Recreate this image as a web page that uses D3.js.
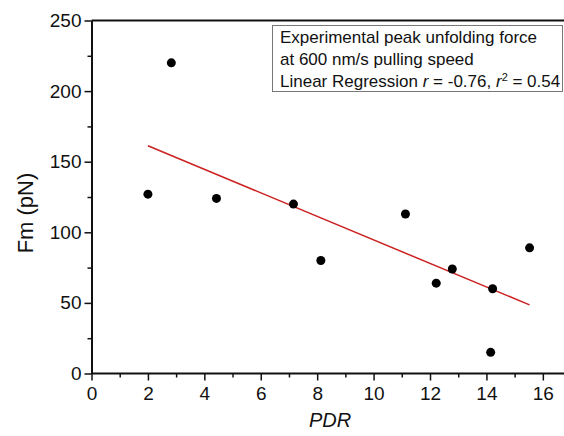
<html><head>
<style>
  body { margin: 0; background: #ffffff; }
  svg text { font-family: "Liberation Sans", Arial, sans-serif; fill: #111; }
</style>
</head><body>
<div id="chart"></div>
<script src="https://cdnjs.cloudflare.com/ajax/libs/d3/7.8.5/d3.min.js"></script>
<script>
const width = 564;
const height = 436;

// data
const pdr = [2.0, 2.83, 4.43, 7.16, 8.13, 11.13, 12.22, 12.79, 14.22, 14.15, 15.53];
const fm  = [127, 220, 124, 120, 80, 113, 64, 74, 60, 15, 89];
const xTicks = [0, 2, 4, 6, 8, 10, 12, 14, 16];
const yTicks = [0, 50, 100, 150, 200, 250];
const legendLines = ["Experimental peak unfolding force", "at 600 nm/s pulling speed"];

const svg = d3.select("#chart").append("svg")
  .attr("width", width)
  .attr("height", height);

const x = d3.scaleLinear().domain([0, 16.75]).range([91.5, 564]);
const y = d3.scaleLinear().domain([0, 250]).range([373.5, 20.5]);

// top spine
svg.append("line")
  .attr("x1", x(0)).attr("x2", width)
  .attr("y1", y(250)).attr("y2", y(250))
  .attr("stroke", "#111").attr("stroke-width", 2);

// minor ticks
const xAxisMinor = d3.axisBottom(x).tickValues(d3.range(1, 17, 2)).tickSize(4).tickFormat("");
const yAxisMinor = d3.axisLeft(y).tickValues(d3.range(25, 250, 50)).tickSize(4).tickFormat("");

svg.append("g").attr("transform", `translate(0,${y(0)})`).call(xAxisMinor)
  .call(g => g.select(".domain").remove())
  .selectAll("line").attr("stroke", "#111").attr("stroke-width", 1.5);
svg.append("g").attr("transform", `translate(${x(0)},0)`).call(yAxisMinor)
  .call(g => g.select(".domain").remove())
  .selectAll("line").attr("stroke", "#111").attr("stroke-width", 1.5);

// major axes
const xAxis = d3.axisBottom(x).tickValues(xTicks).tickSize(7).tickPadding(6).tickSizeOuter(0);
const yAxis = d3.axisLeft(y).tickValues(yTicks).tickSize(7).tickPadding(3).tickSizeOuter(0);

const gx = svg.append("g").attr("transform", `translate(0,${y(0)})`).call(xAxis);
const gy = svg.append("g").attr("transform", `translate(${x(0)},0)`).call(yAxis);

[gx, gy].forEach(g => {
  g.select(".domain").attr("stroke", "#111").attr("stroke-width", 2);
  g.selectAll(".tick line").attr("stroke", "#111").attr("stroke-width", 1.5);
  g.selectAll(".tick text")
    .style("font-family", '"Liberation Sans", Arial, sans-serif')
    .style("font-size", "19px")
    .attr("fill", "#111");
});
gx.select(".domain").attr("d", `M${x(0)},0H${width}`);

// axis titles
svg.append("text")
  .attr("x", 330).attr("y", 427)
  .attr("text-anchor", "middle")
  .style("font-size", "20px")
  .style("font-style", "italic")
  .text("PDR");

svg.append("text")
  .attr("transform", "translate(33,213) rotate(-90)")
  .attr("text-anchor", "middle")
  .style("font-size", "22px")
  .text("Fm (pN)");

// regression line computed from the points
const mx = d3.mean(pdr), my = d3.mean(fm);
let sxy = 0, sxx = 0;
pdr.forEach((v, i) => { sxy += (v - mx) * (fm[i] - my); sxx += (v - mx) * (v - mx); });
const slope = sxy / sxx;
const intercept = my - slope * mx;
const xExt = d3.extent(pdr);

svg.append("line")
  .attr("x1", x(xExt[0])).attr("y1", y(intercept + slope * xExt[0]))
  .attr("x2", x(xExt[1])).attr("y2", y(intercept + slope * xExt[1]))
  .attr("stroke", "#cc2222").attr("stroke-width", 1.5);

// points
svg.append("g").selectAll("circle")
  .data(pdr)
  .join("circle")
  .attr("cx", d => x(d))
  .attr("cy", (d, i) => y(fm[i]))
  .attr("r", 4.5)
  .attr("fill", "#000");

// legend box
svg.append("rect")
  .attr("x", 272.5).attr("y", 25.5)
  .attr("width", 290).attr("height", 66)
  .attr("fill", "#fff")
  .attr("stroke", "#777").attr("stroke-width", 1);

const legend = svg.append("g").style("font-size", "17px");
legendLines.forEach((t, i) => {
  legend.append("text").attr("x", 280).attr("y", 43 + i * 21.5).text(t);
});
const l3 = legend.append("text").attr("x", 280).attr("y", 87);
l3.append("tspan").text("Linear Regression ");
l3.append("tspan").style("font-style", "italic").text("r");
l3.append("tspan").text(" = -0.76, ");
l3.append("tspan").style("font-style", "italic").text("r");
l3.append("tspan").attr("dy", -6).style("font-size", "11px").text("2");
l3.append("tspan").attr("dy", 6).text(" = 0.54");
</script>
</body></html>
